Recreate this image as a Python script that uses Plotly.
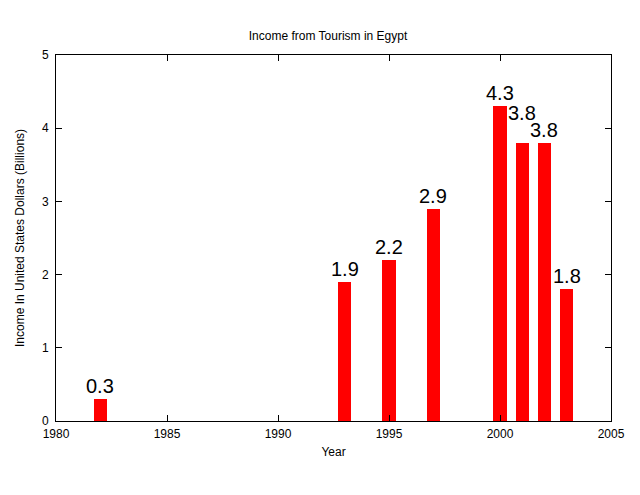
import plotly.graph_objects as go

years = [1982, 1993, 1995, 1997, 2000, 2001, 2002, 2003]
income = [0.3, 1.9, 2.2, 2.9, 4.3, 3.8, 3.8, 1.8]
labels = ["0.3", "1.9", "2.2", "2.9", "4.3", "3.8", "3.8", "1.8"]

FONT = "Liberation Sans, Arial, sans-serif"

fig = go.Figure()
fig.add_trace(go.Bar(x=years, y=income, width=0.6, marker=dict(color="#ff0000", line=dict(width=0)),
                     showlegend=False, hoverinfo="x+y"))

# extra lift (px) for the 2001 label so it clears its neighbour, as in the original
lift = {2001: 17}
for xv, yv, t in zip(years, income, labels):
    fig.add_annotation(x=xv, y=yv, text=t, showarrow=False, yanchor="bottom", xanchor="center",
                       font=dict(family=FONT, size=20, color="black"),
                       yshift=0 + lift.get(xv, 0))

axis_common = dict(showline=True, linecolor="black", linewidth=1, mirror="ticks", ticks="inside",
                   ticklen=6, tickcolor="black", showgrid=False, zeroline=False,
                   tickfont=dict(family=FONT, size=12, color="black"))

fig.update_layout(
    width=640, height=495,
    paper_bgcolor="white", plot_bgcolor="white",
    margin=dict(l=42, r=37, t=47, b=82),
    title=dict(text="Income from Tourism in Egypt", x=0.5, xanchor="center", y=1 - 28 / 495, yanchor="middle",
               font=dict(family=FONT, size=12, color="black")),
    xaxis=dict(range=[1980, 2005], tickvals=[1980, 1985, 1990, 1995, 2000, 2005],
               ticklabelstandoff=2,
               title=dict(text="Year", standoff=7, font=dict(family=FONT, size=12, color="black")),
               **axis_common),
    yaxis=dict(range=[0, 5], tickvals=[0, 1, 2, 3, 4, 5],
               ticklabelstandoff=4,
               title=dict(text="Income In United States Dollars (Billions)", standoff=14,
                          font=dict(family=FONT, size=12, color="black")),
               **axis_common),
    bargap=0,
)

fig.write_html("out.html")
